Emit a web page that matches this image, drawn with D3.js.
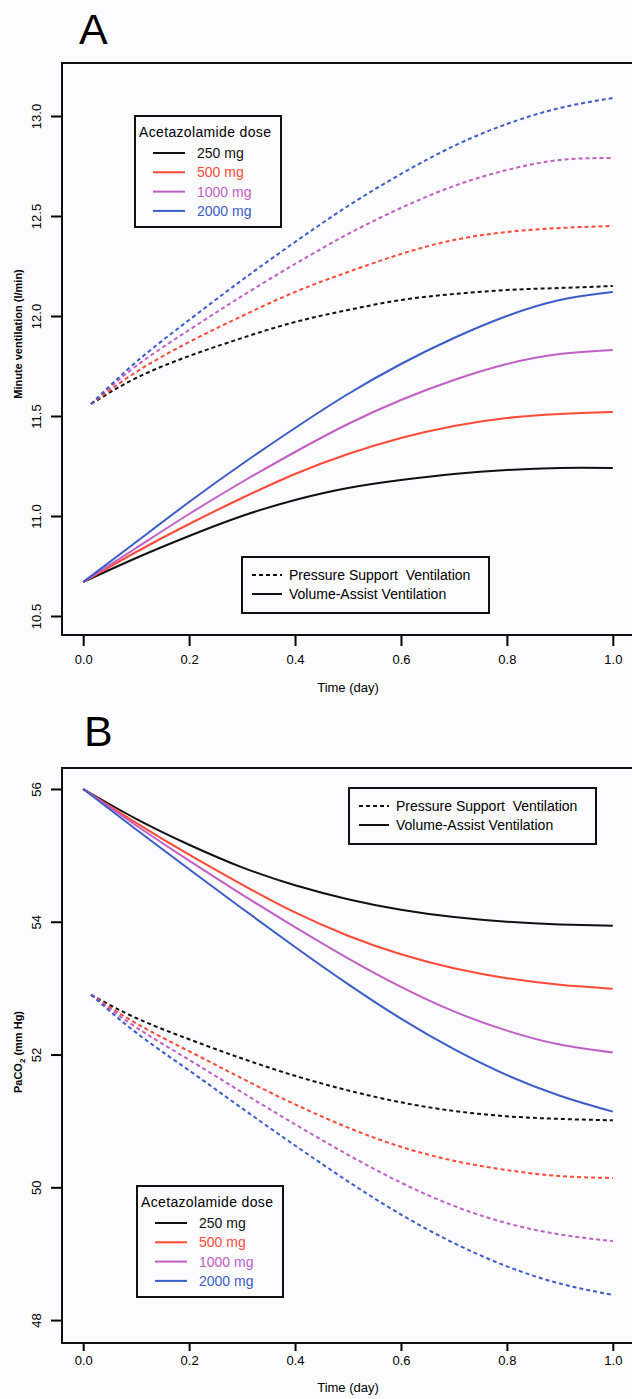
<!DOCTYPE html>
<html>
<head>
<meta charset="utf-8">
<title></title>
<script src="https://cdn.jsdelivr.net/npm/d3@7"></script>
<style>
  body { margin: 0; background: #fcfcfe; }
  text { font-family: "Liberation Sans", Arial, sans-serif; }
</style>
</head>
<body>
<svg id="svg"></svg>
<script>
var width = 632;
var height = 1399;

// time points (day)
const timeVAV = [0.0, 0.1, 0.2, 0.3, 0.4, 0.5, 0.6, 0.7, 0.8, 0.9, 1.0];
const timePSV = [0.015, 0.1, 0.2, 0.3, 0.4, 0.5, 0.6, 0.7, 0.8, 0.9, 1.0];

const doses = ["250 mg", "500 mg", "1000 mg", "2000 mg"];

// panel A: minute ventilation (l/min), one row per dose
const ventVAV = [
  [10.67, 10.79, 10.90, 11.00, 11.08, 11.14, 11.18, 11.21, 11.23, 11.24, 11.24],
  [10.67, 10.82, 10.96, 11.09, 11.21, 11.31, 11.39, 11.45, 11.49, 11.51, 11.52],
  [10.67, 10.84, 11.01, 11.17, 11.32, 11.46, 11.58, 11.68, 11.76, 11.81, 11.83],
  [10.67, 10.87, 11.07, 11.26, 11.44, 11.61, 11.76, 11.89, 12.00, 12.08, 12.12]
];
const ventPSV = [
  [11.56, 11.69, 11.80, 11.89, 11.97, 12.03, 12.08, 12.11, 12.13, 12.14, 12.15],
  [11.56, 11.72, 11.87, 12.00, 12.12, 12.22, 12.31, 12.38, 12.42, 12.44, 12.45],
  [11.56, 11.75, 11.93, 12.10, 12.26, 12.41, 12.54, 12.65, 12.73, 12.78, 12.79],
  [11.56, 11.77, 11.98, 12.18, 12.37, 12.55, 12.71, 12.85, 12.96, 13.04, 13.09]
];

// panel B: PaCO2 (mm Hg)
const pacoVAV = [
  [56.0, 55.55, 55.16, 54.82, 54.55, 54.34, 54.18, 54.07, 54.00, 53.96, 53.94],
  [56.0, 55.49, 55.01, 54.56, 54.14, 53.79, 53.51, 53.30, 53.15, 53.05, 52.99],
  [56.0, 55.45, 54.92, 54.41, 53.92, 53.45, 53.02, 52.65, 52.36, 52.15, 52.03],
  [56.0, 55.39, 54.79, 54.20, 53.62, 53.06, 52.54, 52.08, 51.69, 51.38, 51.14]
];
const pacoPSV = [
  [52.9, 52.55, 52.23, 51.94, 51.68, 51.46, 51.28, 51.15, 51.07, 51.03, 51.01],
  [52.9, 52.47, 52.05, 51.64, 51.25, 50.90, 50.61, 50.40, 50.26, 50.17, 50.14],
  [52.9, 52.41, 51.92, 51.43, 50.95, 50.49, 50.07, 49.72, 49.46, 49.29, 49.19],
  [52.9, 52.33, 51.76, 51.19, 50.63, 50.09, 49.59, 49.16, 48.81, 48.55, 48.38]
];

const xTicks = [0, 0.2, 0.4, 0.6, 0.8, 1.0];
const yTicksA = [10.5, 11.0, 11.5, 12.0, 12.5, 13.0];
const yTicksB = [48, 50, 52, 54, 56];
const modes = ["Pressure Support  Ventilation", "Volume-Assist Ventilation"];

const colors = ["#111111", "#ff4a36", "#c160c4", "#3b5dc9"];

const svg = d3.select('#svg')
    .attr('width', width)
    .attr('height', height);

function panel(opt) {
  var x = d3.scaleLinear().domain([-0.04, 1.04]).range([62, 634]);
  var y = d3.scaleLinear().domain(opt.yDomain).range([opt.bottom, opt.top]);
  var g = svg.append('g');

  g.append('text')
    .attr('x', opt.letterX).attr('y', opt.letterY)
    .attr('font-size', 43)
    .text(opt.letter);

  // x axis
  var xa = g.append('g')
    .attr('transform', 'translate(0,' + opt.bottom + ')')
    .call(d3.axisBottom(x).tickValues(xTicks).tickSize(opt.tick).tickPadding(opt.pad).tickFormat(d3.format('.1f')));
  xa.select('.domain').remove();
  xa.selectAll('line').attr('stroke-width', 2);
  xa.selectAll('text').attr('font-size', 13).attr('font-family', '"Liberation Sans", Arial, sans-serif');

  // y axis
  var ya = g.append('g')
    .attr('transform', 'translate(62,0)')
    .call(d3.axisLeft(y).tickValues(opt.yTicks).tickSize(11).tickFormat(opt.yFormat));
  ya.select('.domain').remove();
  ya.selectAll('line').attr('stroke-width', 2);
  ya.selectAll('text')
    .attr('font-size', 13)
    .attr('font-family', '"Liberation Sans", Arial, sans-serif')
    .attr('x', 0).attr('dy', 0)
    .attr('text-anchor', 'middle')
    .attr('transform', 'translate(-21,0) rotate(-90)');

  // frame
  g.append('rect')
    .attr('x', 62).attr('y', opt.top)
    .attr('width', 572).attr('height', opt.bottom - opt.top)
    .attr('fill', 'none').attr('stroke', '#111').attr('stroke-width', 2);

  g.append('text')
    .attr('x', x(0.5)).attr('y', opt.timeY)
    .attr('text-anchor', 'middle').attr('font-size', 13)
    .text('Time (day)');

  var ylab = g.append('text')
    .attr('transform', 'translate(22,' + opt.yLabelY + ') rotate(-90)')
    .attr('text-anchor', 'middle').attr('font-size', 11).attr('font-weight', 'bold');
  opt.yLabel(ylab);

  var line = d3.line().curve(d3.curveNatural);
  opt.dashed.forEach(function (vals, i) {
    g.append('path')
      .attr('d', line(vals.map(function (v, j) { return [x(timePSV[j]), y(v)]; })))
      .attr('fill', 'none').attr('stroke', colors[i]).attr('stroke-width', 2)
      .attr('stroke-dasharray', '4,3');
  });
  opt.solid.forEach(function (vals, i) {
    g.append('path')
      .attr('d', line(vals.map(function (v, j) { return [x(timeVAV[j]), y(v)]; })))
      .attr('fill', 'none').attr('stroke', colors[i]).attr('stroke-width', 2);
  });

  // dose legend
  var dl = opt.doseLegend;
  var lg = g.append('g').attr('transform', 'translate(' + dl.x + ',' + dl.y + ')');
  lg.append('rect').attr('width', 146).attr('height', 111)
    .attr('fill', 'none').attr('stroke', '#111').attr('stroke-width', 2);
  lg.append('text').attr('x', 4).attr('y', 21).attr('font-size', 14)
    .attr('textLength', 132).text('Acetazolamide dose');
  doses.forEach(function (d, i) {
    var yy = 37 + i * 19.3;
    lg.append('line').attr('x1', 18).attr('x2', 50).attr('y1', yy).attr('y2', yy)
      .attr('stroke', colors[i]).attr('stroke-width', 2);
    lg.append('text').attr('x', 62).attr('y', yy + 5).attr('font-size', 14)
      .attr('fill', colors[i]).text(d);
  });

  // ventilation mode legend
  var ml = opt.modeLegend;
  var mg = g.append('g').attr('transform', 'translate(' + ml.x + ',' + ml.y + ')');
  mg.append('rect').attr('width', 247).attr('height', 56)
    .attr('fill', 'none').attr('stroke', '#111').attr('stroke-width', 2);
  modes.forEach(function (m, i) {
    var yy = 18 + i * 19;
    mg.append('line').attr('x1', 10).attr('x2', 40).attr('y1', yy).attr('y2', yy)
      .attr('stroke', '#111').attr('stroke-width', 2)
      .attr('stroke-dasharray', i === 0 ? '4,3' : null);
    mg.append('text').attr('x', 47).attr('y', yy + 5).attr('font-size', 14)
      .style('white-space', 'pre').text(m);
  });
}

panel({
  letter: 'A', letterX: 79, letterY: 44,
  top: 63, bottom: 635, tick: 11, pad: 9, timeY: 692,
  yDomain: [10.405, 13.265],
  yTicks: yTicksA, yFormat: d3.format('.1f'),
  yLabelY: 334,
  yLabel: function (t) { t.text('Minute ventilation  (l/min)'); },
  solid: ventVAV, dashed: ventPSV,
  doseLegend: {x: 135, y: 116},
  modeLegend: {x: 242, y: 557}
});

panel({
  letter: 'B', letterX: 84, letterY: 746,
  top: 768, bottom: 1343, tick: 8, pad: 5, timeY: 1392,
  yDomain: [47.655, 56.316],
  yTicks: yTicksB, yFormat: d3.format('d'),
  yLabelY: 1052,
  yLabel: function (t) {
    t.append('tspan').text('PaCO');
    t.append('tspan').attr('font-size', 8).attr('dy', 3).text('2');
    t.append('tspan').attr('dy', -3).text(' (mm Hg)');
  },
  solid: pacoVAV, dashed: pacoPSV,
  doseLegend: {x: 137, y: 1186},
  modeLegend: {x: 349, y: 788}
});
</script>
</body>
</html>
